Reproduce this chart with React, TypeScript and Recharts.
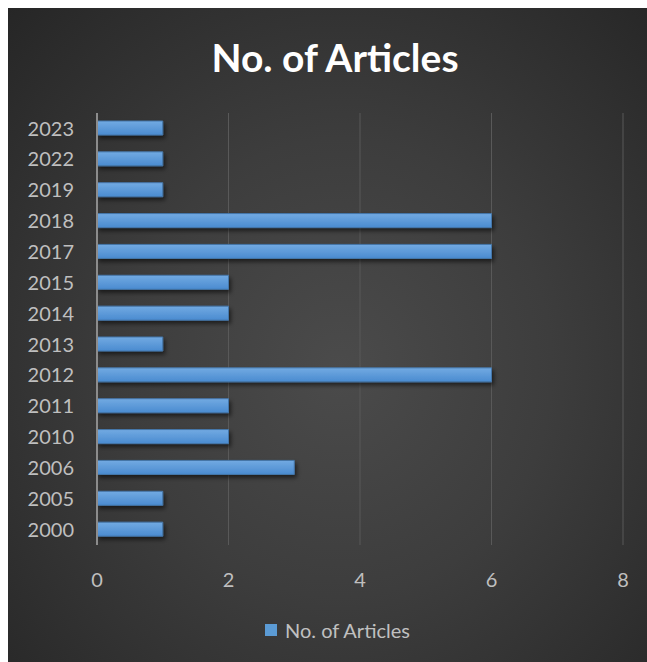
import { BarChart, Bar, XAxis, YAxis, CartesianGrid, Legend } from "recharts";

const years = ["2000", "2005", "2006", "2010", "2011", "2012", "2013", "2014", "2015", "2017", "2018", "2019", "2022", "2023"];
const articles = [1, 1, 3, 2, 2, 6, 1, 2, 2, 6, 6, 1, 1, 1];
const xTicks = [0, 2, 4, 6, 8];

const data = years.map((year, i) => ({ year, count: articles[i] }));

const FONT = "Lato, 'Open Sans', sans-serif";

function LegendBox() {
  return (
    <div style={{ display: "flex", alignItems: "center", justifyContent: "center", fontFamily: FONT, fontSize: 20, color: "#c0c0c0" }}>
      <span style={{ display: "inline-block", width: 12, height: 12, background: "#5b9bd5", marginRight: 8 }} />
      No. of Articles
    </div>
  );
}

export default function App() {
  return (
    <>
      <style>{"body{margin:0}"}</style>
      <div
        style={{
          position: "relative",
          width: 639,
          height: 654,
          marginLeft: 8,
          marginTop: 8,
          background: "radial-gradient(ellipse at 52% 55%, #4b4b4b 0%, #3d3d3d 45%, #262626 100%)",
        }}
      >
        <div
          style={{
            position: "absolute",
            top: 24,
            left: 0,
            width: 654,
            textAlign: "center",
            fontFamily: FONT,
            fontWeight: 700,
            fontSize: 39,
            color: "#ffffff",
            lineHeight: "50px",
          }}
        >
          No. of Articles
        </div>
        <BarChart
          width={639}
          height={654}
          data={data}
          layout="vertical"
          margin={{ top: 105, right: 24, left: 0, bottom: 72 }}
          barSize={14}
        >
          <defs>
            <linearGradient id="barFill" x1="0" y1="0" x2="0" y2="1">
              <stop offset="0%" stopColor="#72aae2" />
              <stop offset="100%" stopColor="#4a8bd0" />
            </linearGradient>
            <filter id="barShadow" x="-10%" y="-50%" width="130%" height="250%">
              <feDropShadow dx="2" dy="3" stdDeviation="2" floodColor="#000" floodOpacity="0.55" />
            </filter>
          </defs>
          <CartesianGrid horizontal={false} stroke="#595959" strokeWidth={1} />
          <XAxis
            type="number"
            domain={[0, 8]}
            ticks={xTicks}
            axisLine={false}
            tickLine={false}
            tickSize={0}
            tickMargin={28}
            height={45}
            tick={{ fill: "#bfbfbf", fontSize: 20, fontFamily: FONT }}
          />
          <YAxis
            type="category"
            dataKey="year"
            reversed
            width={89}
            tickLine={false}
            tickSize={0}
            tickMargin={23}
            axisLine={{ stroke: "#8c8c8c", strokeWidth: 2 }}
            tick={{ fill: "#bfbfbf", fontSize: 20, fontFamily: FONT }}
            interval={0}
          />
          <Legend
            layout="vertical"
            align="center"
            verticalAlign="middle"
            wrapperStyle={{ top: 610, left: 10, width: 639 }}
            content={() => <LegendBox />}
          />
          <Bar
            dataKey="count"
            name="No. of Articles"
            fill="url(#barFill)"
            stroke="#4577aa"
            strokeWidth={1}
            filter="url(#barShadow)"
            isAnimationActive={false}
          />
        </BarChart>
      </div>
    </>
  );
}
